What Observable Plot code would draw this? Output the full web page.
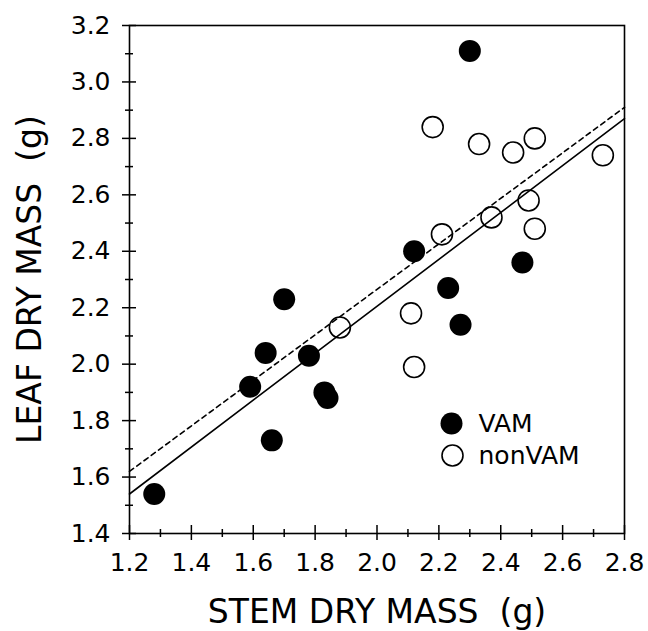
<!DOCTYPE html>
<html><head><meta charset="utf-8">
<script src="https://cdn.jsdelivr.net/npm/d3@7"></script>
<script src="https://cdn.jsdelivr.net/npm/@observablehq/plot@0.6"></script>
<style>body{margin:0;background:#fff}</style>
</head><body><div id="chart"></div>
<script>
// VAM (filled circles)
const vamX = [1.28, 1.59, 1.64, 1.66, 1.70, 1.78, 1.83, 1.84, 2.12, 2.23, 2.27, 2.30, 2.47];
const vamY = [1.54, 1.92, 2.04, 1.73, 2.23, 2.03, 1.90, 1.88, 2.40, 2.27, 2.14, 3.11, 2.36];
// nonVAM (open circles)
const nonX = [1.88, 2.11, 2.12, 2.21, 2.37, 2.49, 2.51, 2.18, 2.33, 2.44, 2.51, 2.73];
const nonY = [2.13, 2.18, 1.99, 2.46, 2.52, 2.58, 2.48, 2.84, 2.78, 2.75, 2.80, 2.74];
// regression lines (end points)
const lineX = [1.2, 2.8];
const solidY = [1.54, 2.87];
const dashedY = [1.62, 2.91];
// ticks
const xTicks = [1.2, 1.4, 1.6, 1.8, 2.0, 2.2, 2.4, 2.6, 2.8];
const xMinor = [1.3, 1.5, 1.7, 1.9, 2.1, 2.3, 2.5, 2.7];
const yTicks = [1.4, 1.6, 1.8, 2.0, 2.2, 2.4, 2.6, 2.8, 3.0, 3.2];
const yMinor = [1.5, 1.7, 1.9, 2.1, 2.3, 2.5, 2.7, 2.9, 3.1];
const xLabel = "STEM DRY MASS  (g)";
const yLabel = "LEAF DRY MASS  (g)";
const legendLabels = ["VAM", "nonVAM"];

const vam = vamX.map((x, i) => ({x, y: vamY[i]}));
const non = nonX.map((x, i) => ({x, y: nonY[i]}));
const solid = lineX.map((x, i) => ({x, y: solidY[i]}));
const dashed = lineX.map((x, i) => ({x, y: dashedY[i]}));
const fmt = d3.format(".1f");
const F = "DejaVu Sans";

const W = 648, H = 631, mL = 129, mR = 24, mT = 25, mB = 98;
const fw = W - mL - mR, fh = H - mT - mB;

const chart = Plot.plot({
  width: W, height: H,
  marginLeft: mL, marginRight: mR, marginTop: mT, marginBottom: mB,
  style: {fontFamily: F, background: "#fff", color: "#000"},
  x: {domain: [1.2, 2.8], axis: null},
  y: {domain: [1.4, 3.2], axis: null},
  marks: [
    Plot.frame({stroke: "#000", strokeWidth: 1.6}),
    // crossing ticks
    Plot.tickX(xTicks, {x: d => d, insetTop: fh - 8, insetBottom: -7, stroke: "#000", strokeWidth: 1.5}),
    Plot.tickX(xMinor, {x: d => d, insetTop: fh - 4, insetBottom: -4, stroke: "#000", strokeWidth: 1.5}),
    Plot.tickY(yTicks, {y: d => d, insetLeft: -7, insetRight: fw - 7, stroke: "#000", strokeWidth: 1.5}),
    Plot.tickY(yMinor, {y: d => d, insetLeft: -4, insetRight: fw - 4, stroke: "#000", strokeWidth: 1.5}),
    Plot.axisX({ticks: xTicks, tickSize: 0, tickPadding: 20, tickFormat: fmt, fontSize: 25, fill: "#000", label: null}),
    Plot.axisY({ticks: yTicks, tickSize: 0, tickPadding: 19, tickFormat: fmt, fontSize: 25, fill: "#000", label: null}),
    Plot.text([xLabel], {frameAnchor: "bottom", textAnchor: "middle", dy: 66, lineAnchor: "top", fontSize: 33, fill: "#000"}),
    Plot.text([yLabel], {frameAnchor: "left", textAnchor: "middle", dx: -112, rotate: -90, lineAnchor: "top", fontSize: 33, fill: "#000"}),
    Plot.line(solid, {x: "x", y: "y", stroke: "#000", strokeWidth: 1.6}),
    Plot.line(dashed, {x: "x", y: "y", stroke: "#000", strokeWidth: 1.6, strokeDasharray: "5,4"}),
    Plot.dot(non, {x: "x", y: "y", r: 10.5, stroke: "#000", strokeWidth: 1.6, fill: "none"}),
    Plot.dot(vam, {x: "x", y: "y", r: 11, fill: "#000", stroke: "none"}),
    // legend
    Plot.dot([legendLabels[0]], {frameAnchor: "bottom-right", dx: -173, dy: -110, r: 11, fill: "#000"}),
    Plot.dot([legendLabels[1]], {frameAnchor: "bottom-right", dx: -172, dy: -78, r: 10.5, stroke: "#000", strokeWidth: 1.6, fill: "none"}),
    Plot.text([legendLabels[0]], {text: d => d, frameAnchor: "bottom-right", dx: -146, dy: -110, textAnchor: "start", lineAnchor: "middle", fontSize: 25, fill: "#000"}),
    Plot.text([legendLabels[1]], {text: d => d, frameAnchor: "bottom-right", dx: -146, dy: -78, textAnchor: "start", lineAnchor: "middle", fontSize: 25, fill: "#000"})
  ]
});
document.getElementById("chart").append(chart);
</script>
</body></html>
